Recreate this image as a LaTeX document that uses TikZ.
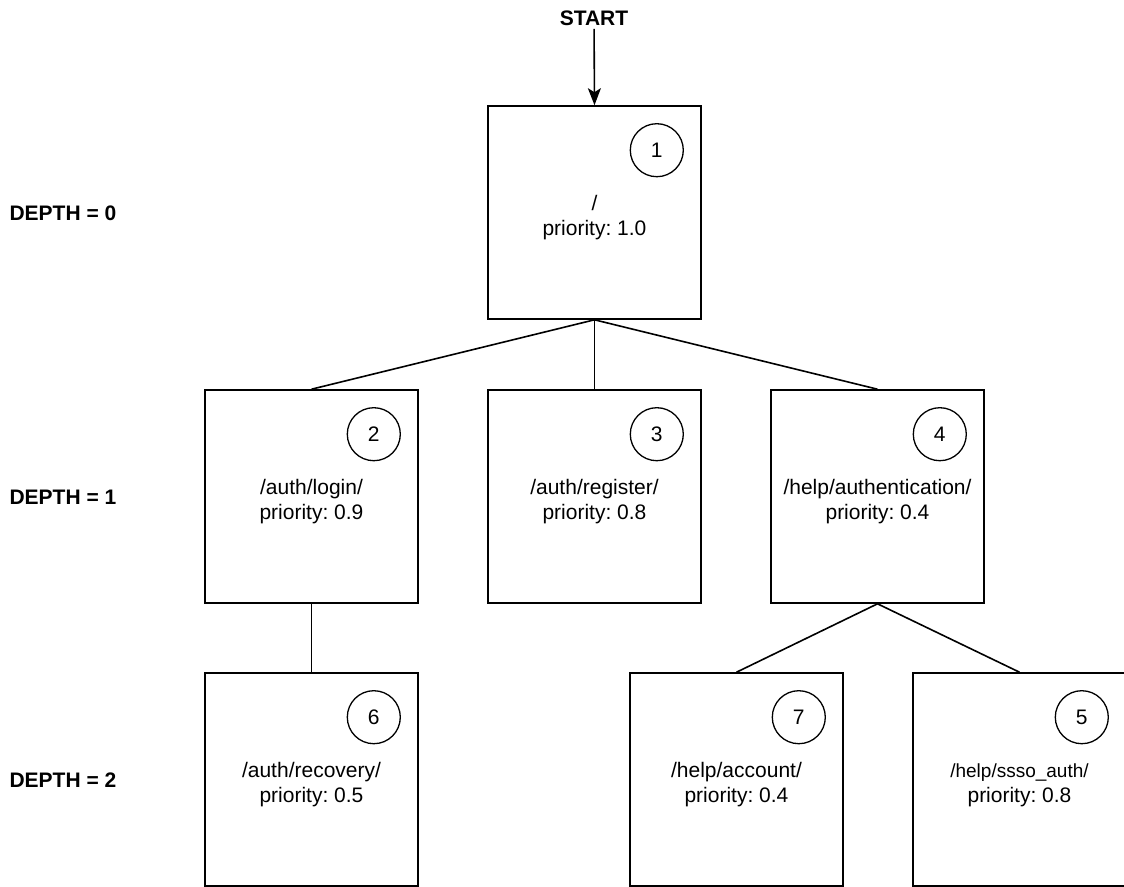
\documentclass[tikz,border=0pt]{standalone}
\usepackage{fontspec}
\setmainfont{Liberation Sans}
\frenchspacing
\usetikzlibrary{arrows.meta}
\newcommand\pagestrut{\rule{0pt}{25pt}}

\begin{document}
\begin{tikzpicture}[x=1pt, y=-1pt,
        page/.style={draw, line width=1.6pt, minimum width=213pt, minimum height=213pt,
            inner sep=0pt, align=center, font=\fontsize{21}{25}\selectfont},
        num/.style={draw, circle, line width=1.3pt, minimum size=53pt, inner sep=0pt,
            font=\fontsize{21}{25}\selectfont},
        lbl/.style={font=\bfseries\fontsize{21}{25}\selectfont},
        edge/.style={line width=1.6pt}]
        \useasboundingbox (0,0) rectangle (1124,886);

        \node[lbl] (start) at (594,18) {START};
        \node[lbl, anchor=west] (d0) at (6,213) {DEPTH = 0};
        \node[lbl, anchor=west] (d1) at (6,497) {DEPTH = 1};
        \node[lbl, anchor=west] (d2) at (6,780) {DEPTH = 2};

        % depth 0
        \node[page] (p1) at (594.5,212.5) {\pagestrut/\\priority: 1.0};
        % depth 1
        \node[page] (p2) at (311.5,496.5) {\pagestrut/auth/login/\\priority: 0.9};
        \node[page] (p3) at (594.5,496.5) {\pagestrut/auth/register/\\priority: 0.8};
        \node[page] (p4) at (877.5,496.5) {\pagestrut/help/authentication/\\priority: 0.4};
        % depth 2
        \node[page] (p6) at (311.5,779.5) {\pagestrut/auth/recovery/\\priority: 0.5};
        \node[page] (p7) at (736.5,779.5) {\pagestrut/help/account/\\priority: 0.4};
        \node[page] (p5) at (1019.5,779.5) {\pagestrut{\fontsize{19}{25}\selectfont /help/ssso\_auth/}\\priority: 0.8};

        \node[num] (c1) at ([xshift=-45pt,yshift=-45pt]p1.north east) {1};
        \node[num] (c2) at ([xshift=-45pt,yshift=-45pt]p2.north east) {2};
        \node[num] (c3) at ([xshift=-45pt,yshift=-45pt]p3.north east) {3};
        \node[num] (c4) at ([xshift=-45pt,yshift=-45pt]p4.north east) {4};
        \node[num] (c6) at ([xshift=-45pt,yshift=-45pt]p6.north east) {6};
        \node[num] (c7) at ([xshift=-45pt,yshift=-45pt]p7.north east) {7};
        \node[num] (c5) at ([xshift=-45pt,yshift=-45pt]p5.north east) {5};

        \draw[edge, -{Stealth[length=17pt, width=13pt, inset=4pt]}] (start) -- (p1.north);

        \draw[edge] (p1.south) -- (p2.north);
        \draw[edge] (p1.south) -- (p3.north);
        \draw[edge] (p1.south) -- (p4.north);
        \draw[edge] (p2.south) -- (p6.north);
        \draw[edge] (p4.south) -- (p7.north);
        \draw[edge] (p4.south) -- (p5.north);
\end{tikzpicture}
\end{document}
